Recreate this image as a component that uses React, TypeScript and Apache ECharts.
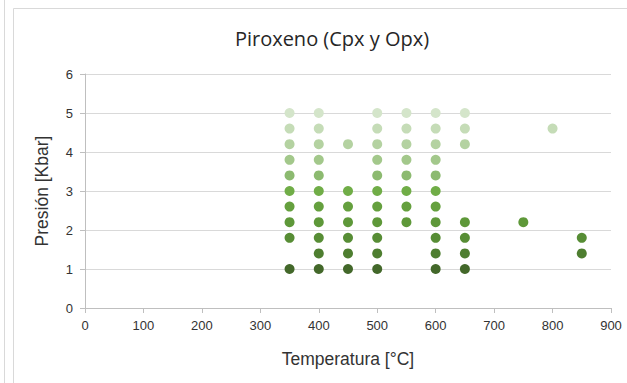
import React, { useEffect, useRef } from "react";
import * as echarts from "echarts";

const pressures = [5.0, 4.6, 4.2, 3.8, 3.4, 3.0, 2.6, 2.2, 1.8, 1.4, 1.0];
const temps5_0 = [350, 400, 500, 550, 600, 650];
const temps4_6 = [350, 400, 500, 550, 600, 650, 800];
const temps4_2 = [350, 400, 450, 500, 550, 600, 650];
const temps3_8 = [350, 400, 500, 550, 600];
const temps3_4 = [350, 400, 500, 550, 600];
const temps3_0 = [350, 400, 450, 500, 550, 600];
const temps2_6 = [350, 400, 450, 500, 550, 600];
const temps2_2 = [350, 400, 450, 500, 550, 600, 650, 750];
const temps1_8 = [350, 400, 450, 500, 600, 650, 850];
const temps1_4 = [400, 450, 500, 600, 650, 850];
const temps1_0 = [350, 400, 450, 500, 600, 650];
const tempsByRow = [temps5_0, temps4_6, temps4_2, temps3_8, temps3_4, temps3_0, temps2_6, temps2_2, temps1_8, temps1_4, temps1_0];
const colors = ["#d4e5ca", "#c5dcb7", "#b4d2a1", "#a3c88b", "#8cba70", "#70ad47", "#65a03e", "#5e9839", "#578d35", "#4e7e30", "#43682a"];

export default function App() {
  const ref = useRef<HTMLDivElement>(null);
  useEffect(() => {
    if (!ref.current) return;
    const chart = echarts.init(ref.current, null, { renderer: "svg" });
    const series = pressures.map((p, i) => ({
      type: "scatter",
      name: String(p),
      symbolSize: 10,
      itemStyle: { color: colors[i], opacity: 1 },
      data: tempsByRow[i].map((t) => [t, p]),
    }));
    chart.setOption({
      animation: false,
      backgroundColor: "#ffffff",
      title: {
        text: "Piroxeno (Cpx y Opx)",
        left: 327,
        textAlign: "center",
        top: 23,
        textStyle: { fontFamily: "Open Sans", fontSize: 20, fontWeight: "normal", color: "#262626" },
      },
      graphic: [
        { type: "line", shape: { x1: 4.5, y1: 0, x2: 4.5, y2: 383 }, style: { stroke: "#d9d9d9", lineWidth: 1 } },
        { type: "rect", shape: { x: 13.5, y: 8.5, width: 700, height: 500 }, style: { fill: "none", stroke: "#d9d9d9", lineWidth: 1 } },
      ],
      grid: { left: 85, right: 16, top: 74, bottom: 75 },
      xAxis: {
        type: "value",
        min: 0,
        max: 900,
        interval: 100,
        name: "Temperatura [°C]",
        nameLocation: "middle",
        nameGap: 42,
        nameTextStyle: { fontFamily: "Liberation Sans", fontSize: 17.5, color: "#333333" },
        axisLine: { show: true, lineStyle: { color: "#bfbfbf" } },
        axisTick: { show: true, length: 5, lineStyle: { color: "#bfbfbf" } },
        axisLabel: { fontFamily: "Liberation Sans", fontSize: 13, color: "#333333", margin: 11 },
        splitLine: { show: false },
      },
      yAxis: {
        type: "value",
        min: 0,
        max: 6,
        interval: 1,
        name: "Presión [Kbar]",
        nameLocation: "middle",
        nameGap: 34,
        nameRotate: 90,
        nameTextStyle: { fontFamily: "Liberation Sans", fontSize: 17.5, color: "#333333" },
        axisLine: { show: true, lineStyle: { color: "#bfbfbf" } },
        axisTick: { show: true, length: 5, lineStyle: { color: "#bfbfbf" } },
        axisLabel: { fontFamily: "Liberation Sans", fontSize: 13, color: "#333333", margin: 12 },
        splitLine: { show: true, lineStyle: { color: "#d9d9d9" } },
      },
      series,
    });
    return () => chart.dispose();
  }, []);
  return <div ref={ref} style={{ position: "fixed", left: 0, top: 0, width: 627, height: 383 }} />;
}
